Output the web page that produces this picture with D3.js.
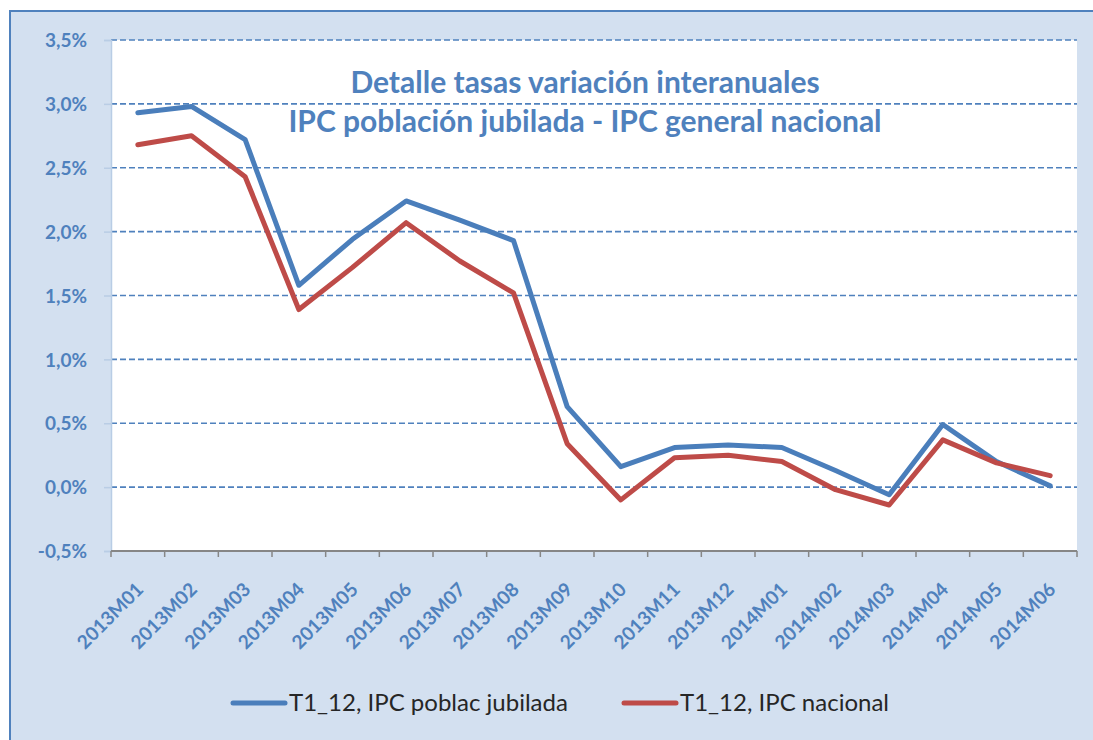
<!DOCTYPE html>
<html><head><meta charset="utf-8">
<script src="https://cdn.jsdelivr.net/npm/d3@7"></script>
<style>html,body{margin:0;padding:0;background:#fff;overflow:hidden;}svg{display:block;}</style>
</head><body>
<script>
const categories = ["2013M01","2013M02","2013M03","2013M04","2013M05","2013M06","2013M07","2013M08","2013M09","2013M10","2013M11","2013M12","2014M01","2014M02","2014M03","2014M04","2014M05","2014M06"];
const jubilada = [2.93, 2.98, 2.72, 1.58, 1.94, 2.24, 2.09, 1.93, 0.63, 0.16, 0.31, 0.33, 0.31, 0.13, -0.06, 0.49, 0.20, 0.01];
const nacional = [2.68, 2.75, 2.43, 1.39, 1.72, 2.07, 1.77, 1.52, 0.34, -0.10, 0.23, 0.25, 0.20, -0.02, -0.14, 0.37, 0.19, 0.09];
const yTicks = [-0.5, 0, 0.5, 1.0, 1.5, 2.0, 2.5, 3.0, 3.5];
const seriesNames = ["T1_12, IPC poblac jubilada", "T1_12, IPC nacional"];
const titleLines = ["Detalle tasas variación interanuales", "IPC población jubilada - IPC general nacional"];

const W = 1093, H = 740;
const BLUE = "#4A7EBB", RED = "#BE4B48", PANEL = "#D3E0F0", TXT = "#4F81BD";
const m = {left: 111, right: 1077, top: 40, bottom: 551};

const svg = d3.select("body").append("svg").attr("width", W).attr("height", H);
svg.append("rect").attr("x", 0).attr("y", 0).attr("width", W).attr("height", H).attr("fill", "#fff");
svg.append("rect").attr("x", 10).attr("y", 11).attr("width", W + 10).attr("height", H + 10)
  .attr("fill", PANEL).attr("stroke", "#4F81BD").attr("stroke-width", 2);

svg.append("rect").attr("x", m.left).attr("y", m.top).attr("width", m.right - m.left).attr("height", m.bottom - m.top).attr("fill", "#fff");

const x = d3.scaleBand().domain(categories).range([m.left, m.right]);
const y = d3.scaleLinear().domain([-0.5, 3.5]).range([m.bottom, m.top]);
const fmt = v => (v < 0 ? "-" : "") + d3.format(".1f")(Math.abs(v)).replace(".", ",") + "%";

// gridlines
const grid = svg.append("g");
grid.selectAll("line").data(yTicks.filter(t => t > -0.5)).join("line")
  .attr("x1", m.left).attr("x2", m.right)
  .attr("y1", d => y(d)).attr("y2", d => y(d))
  .attr("stroke", "#4F81BD").attr("stroke-width", 1.6).attr("stroke-dasharray", "6,3");

// y axis
const yAxis = svg.append("g").attr("transform", `translate(${m.left},0)`)
  .call(d3.axisLeft(y).tickValues(yTicks).tickFormat(fmt).tickSize(7).tickPadding(17));
yAxis.select(".domain").attr("stroke", "#B9CDE5").attr("stroke-width", 1.5);
yAxis.selectAll(".tick line").attr("stroke", "#B9CDE5").attr("stroke-width", 1.5);
yAxis.selectAll(".tick text").attr("fill", TXT).attr("font-family", "Lato").attr("font-weight", "bold").attr("font-size", 19).attr("dy", "0.35em");

// x axis
const xAxis = svg.append("g").attr("transform", `translate(0,${m.bottom})`)
  .call(d3.axisBottom(x).tickSize(0).tickPadding(0));
xAxis.select(".domain").remove();
svg.append("line").attr("x1", m.left).attr("x2", m.right).attr("y1", m.bottom).attr("y2", m.bottom)
  .attr("stroke", "#868686").attr("stroke-width", 2);
const bounds = categories.map(c => x(c)).concat([m.right]);
svg.append("g").selectAll("line").data(bounds).join("line")
  .attr("x1", d => d).attr("x2", d => d).attr("y1", m.bottom).attr("y2", m.bottom + 6)
  .attr("stroke", "#868686").attr("stroke-width", 1.5);
xAxis.selectAll(".tick text")
  .attr("fill", TXT).attr("font-family", "Lato").attr("font-weight", "bold").attr("font-size", 19)
  .attr("text-anchor", "end").attr("dy", "0.35em")
  .attr("transform", "translate(2,35) rotate(-45)");

// lines
const line = d3.line().x((d, i) => x(categories[i]) + x.bandwidth() / 2).y(d => y(d));
svg.append("path").datum(jubilada).attr("d", line).attr("fill", "none").attr("stroke", BLUE)
  .attr("stroke-width", 5).attr("stroke-linejoin", "round").attr("stroke-linecap", "round");
svg.append("path").datum(nacional).attr("d", line).attr("fill", "none").attr("stroke", RED)
  .attr("stroke-width", 5).attr("stroke-linejoin", "round").attr("stroke-linecap", "round");

// title
const title = svg.append("text").attr("x", 585).attr("y", 93).attr("text-anchor", "middle")
  .attr("fill", TXT).attr("font-family", "Lato").attr("font-weight", "bold").attr("font-size", 30);
title.selectAll("tspan").data(titleLines).join("tspan")
  .attr("x", 585).attr("dy", (d, i) => i === 0 ? 0 : 39).text(d => d);

// legend
const leg = svg.append("g");
const legItems = [{name: seriesNames[0], color: BLUE, x0: 231}, {name: seriesNames[1], color: RED, x0: 622}];
legItems.forEach(it => {
  leg.append("line").attr("x1", it.x0 + 2).attr("x2", it.x0 + 54).attr("y1", 703).attr("y2", 703)
    .attr("stroke", it.color).attr("stroke-width", 5).attr("stroke-linecap", "round");
  leg.append("text").attr("x", it.x0 + 58).attr("y", 703).attr("dy", "0.35em")
    .attr("fill", "#262626").attr("font-family", "Lato").attr("font-size", 24).text(it.name);
});
</script>
</body></html>
